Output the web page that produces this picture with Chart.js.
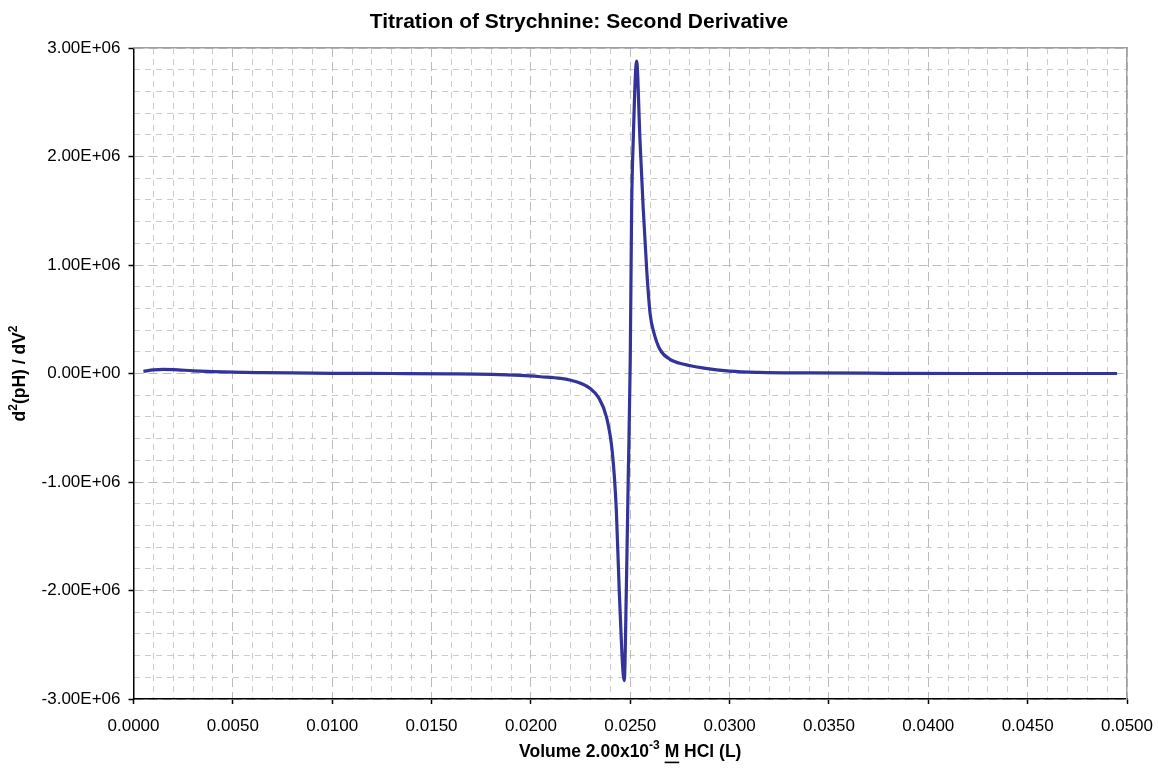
<!DOCTYPE html>
<html><head><meta charset="utf-8">
<script src="https://cdn.jsdelivr.net/npm/chart.js@4/dist/chart.umd.min.js"></script>
<style>html,body{margin:0;padding:0;background:#fff}</style>
</head><body>
<canvas id="c" width="1158" height="771"></canvas>
<script>
// Volume of titrant (L)
const volumeL = [0.0005,0.0010,0.0015,0.0020,0.0030,0.0040,0.0050,0.0065,0.0080,0.0100,0.0130,0.0160,0.0180,0.0195,0.0205,0.0215,0.0220,0.0225,0.0230,0.0234,0.0238,0.0241,0.0243,0.02445,0.0247,0.0248,0.0249,0.0250,0.02507,0.02515,0.02532,0.02549,0.02565,0.02583,0.0260,0.0262,0.0265,0.0270,0.0277,0.0287,0.0300,0.0315,0.0340,0.0380,0.0420,0.0460,0.0495];
// Second derivative d2(pH)/dV2
const secondDerivative = [2.0e4,3.3e4,3.8e4,3.6e4,2.5e4,1.7e4,1.2e4,8e3,5e3,2e3,0,-3e3,-8e3,-1.8e4,-3.0e4,-4.5e4,-6.2e4,-9e4,-1.4e5,-2.2e5,-4.0e5,-7.3e5,-1.26e6,-2.02e6,-2.83e6,-2.02e6,-9.5e5,1.2e5,1.53e6,2.15e6,2.88e6,2.15e6,1.53e6,9.5e5,5.5e5,3.7e5,2.2e5,1.3e5,8.5e4,5e4,2.2e4,1.0e4,5e3,2e3,0,0,0];
const xTickStep = 0.005, xMinorStep = 0.001;
const yTickStep = 1e6, yMinorStep = 2e5;
const xMin = 0, xMax = 0.05, yMin = -3e6, yMax = 3e6;

const titleText = 'Titration of Strychnine: Second Derivative';
const xTitleParts = [{t:'Volume 2.00x10'},{t:'-3',sup:true},{t:' '},{t:'M',u:true},{t:' HCl (L)'}];
const yTitleParts = [{t:'d'},{t:'2',sup:true},{t:'(pH) / dV'},{t:'2',sup:true}];

const FONT = '"Liberation Sans", Arial, sans-serif';

function sciLabel(v){
  if (Math.abs(v) < 1) return '0.00E+00';
  const s = v.toExponential(2);
  const [m, e] = s.split('e');
  const n = parseInt(e, 10);
  return m + 'E' + (n < 0 ? '-' : '+') + String(Math.abs(n)).padStart(2, '0');
}
function isMultiple(v, step){ const r = v/step; return Math.abs(r - Math.round(r)) < 1e-6; }

function drawRich(ctx, parts, size){
  const big = 'bold ' + size + 'px ' + FONT;
  const small = 'bold ' + Math.round(size*0.7) + 'px ' + FONT;
  let total = 0;
  parts.forEach(p => { ctx.font = p.sup ? small : big; p.w = ctx.measureText(p.t).width; total += p.w; });
  let x = -total/2;
  ctx.textBaseline = 'middle'; ctx.textAlign = 'left'; ctx.fillStyle = '#000';
  parts.forEach(p => {
    ctx.font = p.sup ? small : big;
    ctx.fillText(p.t, x, p.sup ? -size*0.38 : 0);
    if (p.u) { ctx.fillRect(x, size*0.55, p.w, 1.6); }
    x += p.w;
  });
}

const textPlugin = {
  id: 'textPlugin',
  afterDraw(chart){
    const ctx = chart.ctx, a = chart.chartArea;
    ctx.save();
    ctx.translate(chart.width/2, 22);
    drawRich(ctx, [{t: titleText}], 21);
    ctx.restore();
    ctx.save();
    ctx.translate((a.left + a.right)/2, 752);
    drawRich(ctx, xTitleParts, 17.5);
    ctx.restore();
    ctx.save();
    ctx.translate(20, (a.top + a.bottom)/2);
    ctx.rotate(-Math.PI/2);
    drawRich(ctx, yTitleParts, 17.5);
    ctx.restore();
  }
};

const points = volumeL.map((v, i) => ({x: v, y: secondDerivative[i]}));

new Chart(document.getElementById('c'), {
  type: 'line',
  data: { datasets: [{
    data: points,
    borderColor: '#333399',
    borderWidth: 3.2,
    pointRadius: 0,
    cubicInterpolationMode: 'monotone',
    fill: false
  }]},
  options: {
    responsive: false,
    animation: false,
    events: [],
    layout: { padding: { left: 0, right: 31, top: 48, bottom: 0 } },
    plugins: {
      legend: { display: false },
      tooltip: { enabled: false },
      title: { display: false }
    },
    scales: {
      xMinor: {
        type: 'linear', position: 'bottom', min: xMin, max: xMax,
        ticks: { display: false, stepSize: xMinorStep, autoSkip: false },
        grid: { drawTicks: false, color: c => (c.tick && isMultiple(c.tick.value, xTickStep)) ? 'rgba(0,0,0,0)' : '#cccccc', lineWidth: 1 },
        border: { display: false, dash: [6, 5] },
        afterFit: s => { s.height = 0; s.paddingLeft = 0; s.paddingRight = 0; }
      },
      yMinor: {
        type: 'linear', position: 'left', min: yMin, max: yMax,
        ticks: { display: false, stepSize: yMinorStep, autoSkip: false },
        grid: { drawTicks: false, color: c => (c.tick && isMultiple(c.tick.value, yTickStep)) ? 'rgba(0,0,0,0)' : '#cccccc', lineWidth: 1 },
        border: { display: false, dash: [6, 5] },
        afterFit: s => { s.width = 0; s.paddingTop = 0; s.paddingBottom = 0; }
      },
      x: {
        type: 'linear', position: 'bottom', min: xMin, max: xMax,
        ticks: { stepSize: xTickStep, autoSkip: false, maxRotation: 0, color: '#000', padding: 12,
          font: { family: FONT, size: 17 }, callback: v => Number(v).toFixed(4) },
        grid: { color: '#bcbcbc', lineWidth: 1, tickLength: 5, tickColor: '#000', tickWidth: 1.5 },
        border: { display: true, color: '#000', width: 1.5, dash: [9, 5] },
        afterFit: s => { s.height = 72; s.paddingLeft = 0; s.paddingRight = 0; }
      },
      y: {
        type: 'linear', position: 'left', min: yMin, max: yMax,
        ticks: { stepSize: yTickStep, autoSkip: false, color: '#000', padding: 8,
          font: { family: FONT, size: 17 }, callback: v => sciLabel(v) },
        grid: { color: '#bcbcbc', lineWidth: 1, tickLength: 5, tickColor: '#000', tickWidth: 1.5 },
        border: { display: true, color: '#000', width: 1.5, dash: [9, 5] },
        afterFit: s => { s.width = 133.5; s.paddingTop = 0; s.paddingBottom = 0; }
      },
      xTop: {
        type: 'linear', position: 'top', min: xMin, max: xMax,
        ticks: { display: false }, grid: { display: false, drawTicks: false },
        border: { display: true, color: '#a0a0a0', width: 1.5 },
        afterFit: s => { s.height = 0; s.paddingLeft = 0; s.paddingRight = 0; }
      },
      yRight: {
        type: 'linear', position: 'right', min: yMin, max: yMax,
        ticks: { display: false }, grid: { display: false, drawTicks: false },
        border: { display: true, color: '#a0a0a0', width: 1.5 },
        afterFit: s => { s.width = 0; s.paddingTop = 0; s.paddingBottom = 0; }
      }
    }
  },
  plugins: [textPlugin]
});
</script>
</body></html>
